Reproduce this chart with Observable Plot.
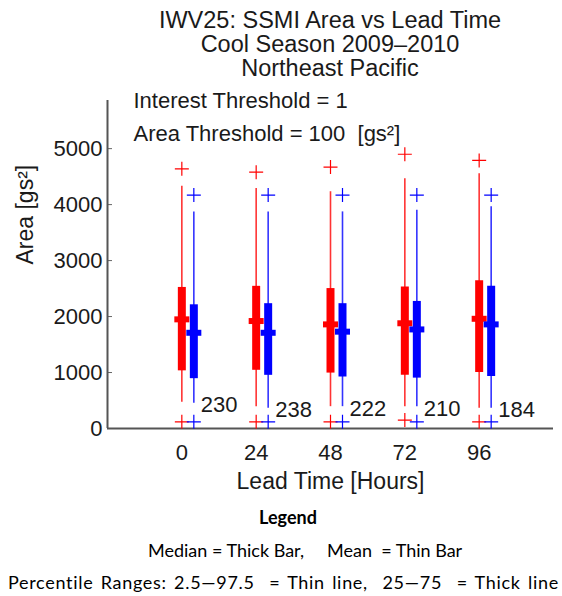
<!DOCTYPE html>
<html>
<head>
<meta charset="utf-8">
<script src="https://cdn.jsdelivr.net/npm/d3@7"></script>
<script src="https://cdn.jsdelivr.net/npm/@observablehq/plot@0.6"></script>
<style>
  html, body { margin: 0; padding: 0; background: #fff; }
  #page { position: relative; width: 562px; height: 596px; overflow: hidden; }
  .title {
    position: absolute; left: 98px; width: 464px; top: 8px;
    font-family: "Liberation Sans", Arial, sans-serif; font-size: 23.5px;
    line-height: 24px; text-align: center; color: #1a1a1a;
  }
  #chart { position: absolute; left: 0; top: 88px; }
  .leg {
    position: absolute; font-family: Lato, "Open Sans", sans-serif; font-size: 18px;
    line-height: 18px; color: #000; white-space: pre;
  }
</style>
</head>
<body>
<div id="page">
  <div class="title">IWV25: SSMI Area vs Lead Time<br>Cool Season 2009–2010<br>Northeast Pacific</div>
  <div id="chart"></div>
  <div class="leg" style="left:0;width:576px;text-align:center;top:508px;font-weight:bold;">Legend</div>
  <div class="leg" style="left:148px;top:541px;">Median = Thick Bar,     Mean  = Thin Bar</div>
  <div class="leg" style="left:8px;top:573px;letter-spacing:0.7px;word-spacing:2px;">Percentile Ranges: 2.5—97.5  = Thin line,  25—75  = Thick line</div>
</div>
<script>
// Lead times (hours) and number of matched cases at each lead
const leadTimes = [0, 24, 48, 72, 96];
const sampleCounts = [230, 238, 222, 210, 184];

// Axis settings
const leadDomain = [-24, 120];
const leadTicks = [0, 24, 48, 72, 96];
const areaDomain = [0, 5860];
const areaTicks = [0, 1000, 2000, 3000, 4000, 5000];

// Observed (red) area statistics [gs^2]
const obsMax    = [4640, 4580, 4670, 4900, 4790];
const obsP975   = [4330, 4290, 4230, 4460, 4550];
const obsQ75    = [2520, 2540, 2500, 2530, 2640];
const obsMedian = [1950, 1920, 1860, 1880, 1960];
const obsQ25    = [1030, 1040, 990, 950, 1000];
const obsP025   = [470, 390, 390, 390, 360];
const obsMin    = [120, 120, 120, 150, 120];

// Forecast (blue) area statistics [gs^2]
const fcstMax    = [4170, 4170, 4170, 4170, 4170];
const fcstP975   = [3870, 3870, 3870, 3900, 3960];
const fcstQ75    = [2210, 2230, 2230, 2270, 2540];
const fcstMedian = [1710, 1710, 1730, 1770, 1860];
const fcstQ25    = [890, 950, 920, 900, 930];
const fcstP025   = [450, 360, 390, 390, 360];
const fcstMin    = [120, 120, 120, 120, 120];

function table(max, p975, q75, med, q25, p025, min) {
  return leadTimes.map((lead, i) => ({
    lead, max: max[i], p975: p975[i], q75: q75[i], median: med[i],
    q25: q25[i], p025: p025[i], min: min[i], n: sampleCounts[i]
  }));
}
const obs = table(obsMax, obsP975, obsQ75, obsMedian, obsQ25, obsP025, obsMin);
const fcst = table(fcstMax, fcstP975, fcstQ75, fcstMedian, fcstQ25, fcstP025, fcstMin);

// Short horizontal bar used for the median
const medianBar = {
  draw(context) { context.rect(-7.5, -3, 15, 6); }
};
// Stroked plus marker for the extremes
const plusMarker = {
  draw(context) {
    context.moveTo(-7, 0); context.lineTo(7, 0);
    context.moveTo(0, -7); context.lineTo(0, 7);
  }
};

function boxMarks(data, color, dx) {
  return [
    Plot.ruleX(data, {x: "lead", y1: "p025", y2: "p975", stroke: color, strokeWidth: 1.6, strokeOpacity: 0.8, dx}),
    Plot.ruleX(data, {x: "lead", y1: "q25", y2: "q75", stroke: color, strokeWidth: 8, dx}),
    Plot.dot(data, {x: "lead", y: "median", symbol: medianBar, fill: color, stroke: "none", dx}),
    Plot.dot(data, {x: "lead", y: "max", symbol: plusMarker, fill: "none", stroke: color, strokeWidth: 1.2, dx}),
    Plot.dot(data, {x: "lead", y: "min", symbol: plusMarker, fill: "none", stroke: color, strokeWidth: 1.2, dx})
  ];
}

const font = "Liberation Sans, Arial, sans-serif";
const chart = Plot.plot({
  width: 562,
  height: 412,
  marginTop: 12,
  marginBottom: 72,
  marginLeft: 107,
  marginRight: 9,
  style: {fontFamily: font, fontSize: "22px", color: "#1a1a1a", background: "white"},
  x: {domain: leadDomain, label: null},
  y: {domain: areaDomain, label: null},
  marks: [
    Plot.axisY({ticks: areaTicks, tickFormat: d3.format("d"), tickSize: -5, tickPadding: 10, stroke: "#666", fontSize: 22, label: null}),
    Plot.axisX({ticks: leadTicks, tickFormat: d3.format("d"), tickSize: 0, tickPadding: 16, fontSize: 22, label: null}),
    Plot.ruleX([leadDomain[0]], {stroke: "#555", strokeWidth: 2}),
    Plot.ruleY([areaDomain[0]], {stroke: "#555", strokeWidth: 2}),
    ...boxMarks(obs, "#ff0000", 0),
    ...boxMarks(fcst, "#0000ff", 12),
    Plot.text(fcst, {x: "lead", y: "p025", text: "n", textAnchor: "start", dx: 19, dy: 2, fontSize: 22, fill: "#1a1a1a"}),
    Plot.text(["Interest Threshold = 1"], {frameAnchor: "top-left", textAnchor: "start", lineAnchor: "middle", dx: 26, dy: 0, fontSize: 22}),
    Plot.text(["Area Threshold = 100  [gs²]"], {frameAnchor: "top-left", textAnchor: "start", lineAnchor: "middle", dx: 26, dy: 33, fontSize: 22}),
    Plot.text(["Lead Time [Hours]"], {frameAnchor: "bottom", lineAnchor: "middle", dy: 53, fontSize: 23}),
    Plot.text(["Area [gs²]"], {frameAnchor: "left", rotate: -90, lineAnchor: "middle", dx: -82, fontSize: 23})
  ]
});
document.getElementById("chart").appendChild(chart);
</script>
</body>
</html>
